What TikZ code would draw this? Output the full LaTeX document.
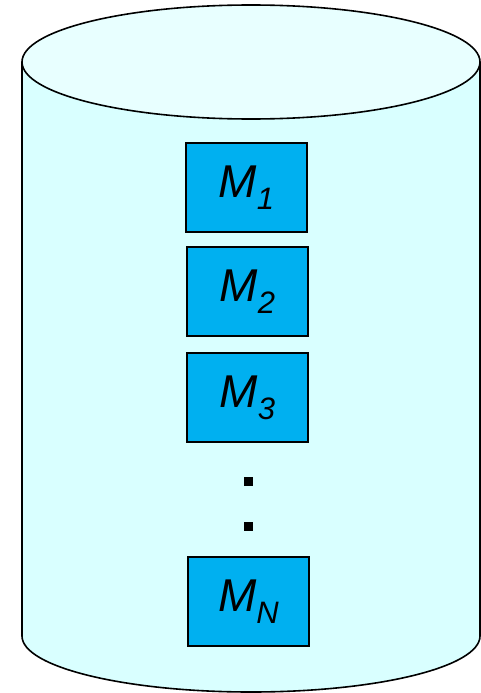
\documentclass[tikz,border=0pt]{standalone}
\usepackage{fontspec}
\setmainfont{Liberation Sans}
\definecolor{drumbody}{RGB}{217,255,255}
\definecolor{drumtop}{RGB}{232,255,255}
\definecolor{modfill}{RGB}{0,176,240}
\newcommand{\modlabel}[1]{{\itshape\fontsize{46}{46}\selectfont M\raisebox{-12pt}{\fontsize{31}{31}\selectfont #1}}}
\begin{document}
\begin{tikzpicture}[x=1pt,y=-1pt,
  outline/.style={draw=black,line width=1.6pt},
  modbox/.style={draw=black,line width=1.8pt,fill=modfill,minimum width=121pt,minimum height=89pt,inner sep=0pt,anchor=north west},
  dotmark/.style={fill=black,minimum size=9pt,inner sep=0pt}]
\useasboundingbox (0,0) rectangle (481,693);
% cylinder body
\fill[drumbody] (22,62) -- (22,636) arc[start angle=180,end angle=360,x radius=229,y radius=-56] -- (480,62) -- cycle;
\draw[outline] (22,62) -- (22,636) arc[start angle=180,end angle=360,x radius=229,y radius=-56] -- (480,62);
% top ellipse
\draw[outline,fill=drumtop] (251,62) ellipse[x radius=229,y radius=57];
% stacked modules
\node[modbox] (m1) at (185,142) {\modlabel{1}};
\node[modbox] (m2) at (186,246) {\modlabel{2}};
\node[modbox] (m3) at (186,352) {\modlabel{3}};
\node[dotmark] (d1) at (248.5,481.5) {};
\node[dotmark] (d2) at (248.5,526.5) {};
\node[modbox] (mn) at (187,556) {\modlabel{N}};
\end{tikzpicture}
\end{document}
